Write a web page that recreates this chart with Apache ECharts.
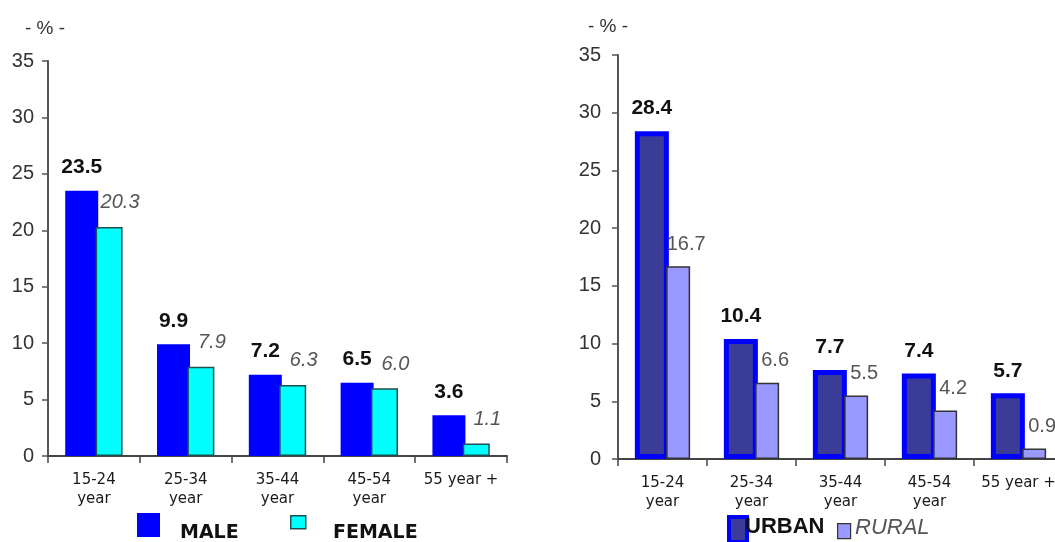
<!DOCTYPE html>
<html>
<head>
<meta charset="utf-8">
<script src="https://cdn.jsdelivr.net/npm/echarts@6/dist/echarts.min.js"></script>
<style>
html,body{margin:0;padding:0;background:#fff;}
#c{width:1055px;height:542px;}
</style>
</head>
<body>
<div id="c"></div>
<script>
// ---- data ----
const categories = ['15-24\nyear', '25-34\nyear', '35-44\nyear', '45-54\nyear', '55 year +'];
const maleValues = [23.5, 9.9, 7.2, 6.5, 3.6];
const femaleValues = [20.3, 7.9, 6.3, 6.0, 1.1];
const urbanValues = [28.4, 10.4, 7.7, 7.4, 5.7];
const ruralValues = [16.7, 6.6, 5.5, 4.2, 0.9];
const yTicks = { min: 0, max: 35, interval: 5 };
const yUnit = '- % -';

const fmt = p => Number(p.value).toFixed(1);
const AR = '"Liberation Sans", Arial, sans-serif';
const DV = '"DejaVu Sans", sans-serif';

function xAxis(gi) {
  return {
    type: 'category', gridIndex: gi, data: categories,
    axisLine: { lineStyle: { color: '#444', width: 2 } },
    axisTick: { show: true, length: 7, lineStyle: { color: '#444', width: 1.5 } },
    axisLabel: { interval: 0, fontFamily: DV, fontSize: 15, color: '#1a1a1a', lineHeight: 19, margin: 15 }
  };
}
function yAxis(gi, margin, namePad, gap) {
  return {
    type: 'value', gridIndex: gi, min: yTicks.min, max: yTicks.max, interval: yTicks.interval,
    name: yUnit, nameLocation: 'end', nameGap: gap,
    nameTextStyle: { fontFamily: AR, fontSize: 19, color: '#333', padding: namePad },
    splitLine: { show: false },
    axisLine: { show: true, lineStyle: { color: '#555', width: 2 } },
    axisTick: { show: true, length: 6, lineStyle: { color: '#555', width: 1.5 } },
    axisLabel: { fontFamily: AR, fontSize: 20, color: '#333', margin: margin }
  };
}
// icon-only legend and text-only legend, placed separately
function iconLegend(name, left, top, w, h, itemStyle) {
  return { left: left, top: top, padding: 0, icon: 'rect', itemWidth: w, itemHeight: h, selectedMode: false,
    formatter: () => '', textStyle: { fontSize: 1 },
    data: [{ name: name, itemStyle: itemStyle }] };
}
function textLegend(name, left, top, textStyle) {
  return { left: left, top: top, padding: 0, icon: 'rect', itemWidth: 0, itemHeight: 0, selectedMode: false,
    textStyle: textStyle, data: [{ name: name, itemStyle: { opacity: 0, borderWidth: 0 } }] };
}

const option = {
  animation: false,
  backgroundColor: '#fff',
  grid: [
    { left: 48, top: 61, width: 459, height: 395, outerBoundsMode: 'none' },
    { left: 618, top: 55, width: 445, height: 404, outerBoundsMode: 'none' }
  ],
  xAxis: [xAxis(0), xAxis(1)],
  yAxis: [yAxis(0, 14, [0, 6, 0, 0], 23), yAxis(1, 17, [0, 20, 0, 0], 19)],
  legend: [
    iconLegend('MALE', 137, 513, 23, 24, { color: '#0000ff', borderWidth: 0 }),
    textLegend('MALE', 175, 524, { fontFamily: DV, fontWeight: 'bold', fontSize: 19, color: '#111' }),
    iconLegend('FEMALE', 290, 515, 15, 13, { color: '#00ffff', borderColor: '#1f4f4f', borderWidth: 1.5 }),
    textLegend('FEMALE', 328, 524, { fontFamily: DV, fontWeight: 'bold', fontSize: 19, color: '#111' }),
    iconLegend('URBAN', 727, 515, 18, 25, { color: '#3b3b98', borderColor: '#0000ff', borderWidth: 4 }),
    textLegend('URBAN', 740, 516, { fontFamily: AR, fontWeight: 'bold', fontSize: 22, color: '#111' }),
    iconLegend('RURAL', 837, 523, 13, 15, { color: '#9999ff', borderColor: '#333', borderWidth: 1.2 }),
    textLegend('RURAL', 850, 517, { fontFamily: AR, fontStyle: 'italic', fontSize: 22, color: '#555' })
  ],
  series: [
    { name: 'MALE', type: 'bar', xAxisIndex: 0, yAxisIndex: 0, data: maleValues,
      barWidth: 33, barGap: '-8%',
      itemStyle: { color: '#0000ff' },
      label: { show: true, position: 'top', distance: 13, formatter: fmt,
        fontFamily: AR, fontWeight: 'bold', fontSize: 21, color: '#111' } },
    { name: 'FEMALE', type: 'bar', xAxisIndex: 0, yAxisIndex: 0, data: femaleValues,
      barWidth: 27, barGap: '-8%',
      itemStyle: { color: '#00ffff', borderColor: '#1f4f4f', borderWidth: 1.5 },
      label: { show: true, position: 'top', distance: 14, offset: [11, 0], formatter: fmt,
        fontFamily: AR, fontStyle: 'italic', fontSize: 20, color: '#555' } },
    { name: 'URBAN', type: 'bar', xAxisIndex: 1, yAxisIndex: 1, data: urbanValues,
      barWidth: 34, barGap: '-8%',
      itemStyle: { color: '#3b3b98', borderColor: '#0000ff', borderWidth: 5 },
      label: { show: true, position: 'top', distance: 12, formatter: fmt,
        fontFamily: AR, fontWeight: 'bold', fontSize: 21, color: '#111' } },
    { name: 'RURAL', type: 'bar', xAxisIndex: 1, yAxisIndex: 1, data: ruralValues,
      barWidth: 24, barGap: '-8%',
      itemStyle: { color: '#9999ff', borderColor: '#333', borderWidth: 1.5 },
      label: { show: true, position: 'top', distance: 12, offset: [8, 0], formatter: fmt,
        fontFamily: AR, fontSize: 20, color: '#555' } }
  ]
};

const chart = echarts.init(document.getElementById('c'), null, { renderer: 'canvas' });
chart.setOption(option);
</script>
</body>
</html>
